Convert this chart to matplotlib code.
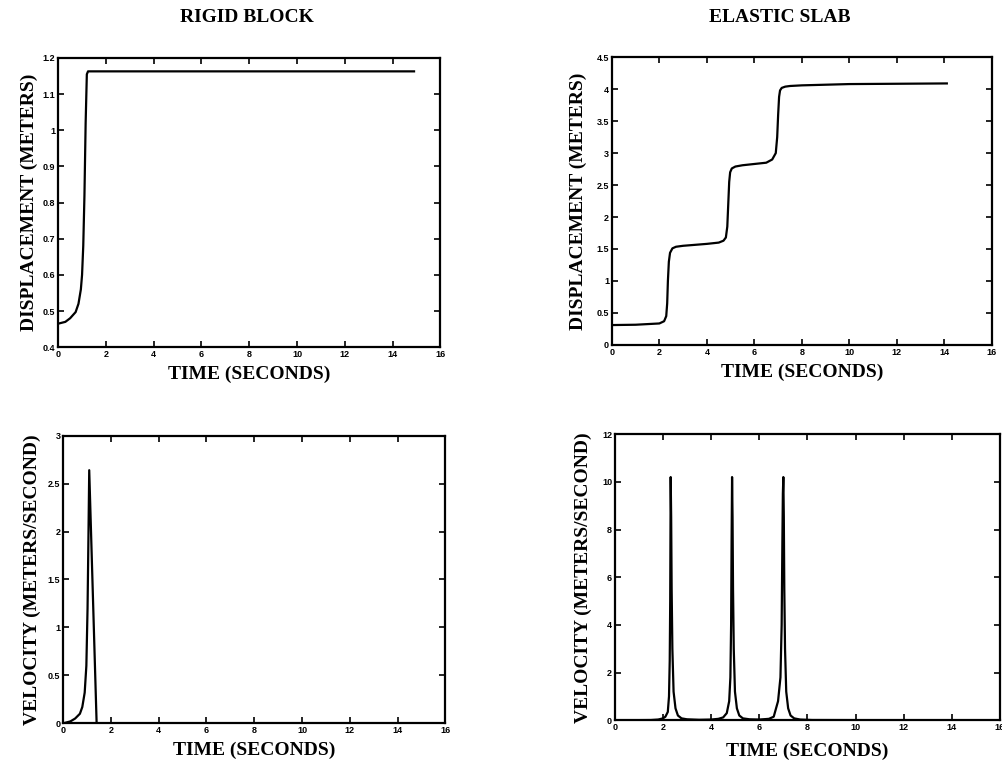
import matplotlib
matplotlib.use('Agg')
import matplotlib.pyplot as plt

# rigid block displacement (m) vs time (s)
t_rigid_disp = [0, 0.3, 0.5, 0.73, 0.85, 0.95, 1.0, 1.05, 1.1, 1.15, 1.2, 1.25, 14.9]
rigid_disp = [0.465, 0.47, 0.48, 0.497, 0.52, 0.56, 0.60, 0.68, 0.82, 1.02, 1.155, 1.163, 1.163]

# rigid block velocity (m/s)
t_rigid_vel = [0, 0.3, 0.5, 0.7, 0.8, 0.9, 0.97, 1.02, 1.06, 1.09, 1.40]
rigid_vel = [0, 0.02, 0.05, 0.10, 0.17, 0.32, 0.6, 1.2, 2.0, 2.64, 0]

# elastic slab displacement (m)
t_slab_disp = [0, 1.0, 2.0, 2.2, 2.29, 2.33, 2.36, 2.40, 2.45, 2.55, 2.7, 3.0, 4.0, 4.5, 4.7,
               4.8, 4.86, 4.90, 4.94, 4.98, 5.05, 5.2, 5.5, 6.0, 6.5, 6.75, 6.9, 6.96,
               7.0, 7.04, 7.08, 7.15, 7.3, 7.5, 8.0, 9.0, 10.0, 14.1]
slab_disp = [0.31, 0.315, 0.335, 0.37, 0.45, 0.65, 1.0, 1.3, 1.44, 1.51, 1.535, 1.55, 1.58, 1.60, 1.63,
             1.68, 1.85, 2.2, 2.55, 2.7, 2.76, 2.79, 2.81, 2.83, 2.85, 2.90, 3.0, 3.25,
             3.6, 3.88, 3.98, 4.02, 4.04, 4.05, 4.06, 4.07, 4.08, 4.09]

# elastic slab velocity (m/s)
t_slab_vel = [0, 1.5, 1.8, 2.0, 2.1, 2.2, 2.25, 2.28, 2.30, 2.32, 2.34, 2.36, 2.39, 2.44, 2.52,
              2.62, 2.77, 3.0, 3.5, 4.0, 4.3, 4.5, 4.65, 4.75, 4.8, 4.83, 4.85, 4.87, 4.89,
              4.91, 4.94, 4.99, 5.07, 5.17, 5.32, 5.6, 6.0, 6.4, 6.6, 6.78, 6.88, 6.93, 6.96,
              6.98, 7.0, 7.02, 7.04, 7.07, 7.12, 7.2, 7.3, 7.45, 7.7, 8.2, 14.1]
slab_vel = [0, 0.01, 0.03, 0.08, 0.15, 0.35, 1.0, 2.5, 5.0, 10.2, 8.5, 5.5, 3.0, 1.2, 0.5,
            0.2, 0.08, 0.04, 0.02, 0.03, 0.06, 0.12, 0.3, 0.8, 1.8, 4.0, 7.5, 10.2, 8.5,
            5.5, 3.0, 1.2, 0.5, 0.2, 0.08, 0.04, 0.03, 0.06, 0.15, 0.8, 1.8, 4.0, 7.5,
            9.5, 10.2, 8.5, 5.5, 3.0, 1.2, 0.5, 0.2, 0.08, 0.03, 0.01, 0]

titles = ['RIGID BLOCK', 'ELASTIC SLAB']
x_label = 'TIME (SECONDS)'
disp_label = 'DISPLACEMENT (METERS)'
vel_label = 'VELOCITY (METERS/SECOND)'

serif = ['Liberation Serif', 'DejaVu Serif']
sans = ['Liberation Sans', 'DejaVu Sans']

fig = plt.figure(figsize=(10.03, 7.63), dpi=100)

def make_axes(rect, t, v, ylim, yticks, ylabel, xpad, ypad):
    ax = fig.add_axes(rect)
    ax.plot(t, v, color='black', lw=1.6)
    ax.set_xlim(0, 16)
    ax.set_ylim(*ylim)
    ax.set_xticks(range(0, 17, 2))
    ax.set_yticks(yticks)
    ax.set_yticklabels(['{:g}'.format(v) for v in yticks])
    ax.tick_params(direction='in', length=4, width=1.2, top=True, right=True, pad=2,
                   labelsize=6.5)
    for lab in ax.get_xticklabels() + ax.get_yticklabels():
        lab.set_family(sans)
        lab.set_fontweight('bold')
    for s in ax.spines.values():
        s.set_linewidth(1.6)
    ax.set_xlabel(x_label, family=serif, fontweight='bold', fontsize=14, labelpad=xpad)
    ax.set_ylabel(ylabel, family=serif, fontweight='bold', fontsize=14, labelpad=ypad)
    return ax

make_axes([0.058, 0.545, 0.381, 0.379], t_rigid_disp, rigid_disp, (0.4, 1.2),
          [0.4, 0.5, 0.6, 0.7, 0.8, 0.9, 1, 1.1, 1.2], disp_label, 5, 3)
make_axes([0.610, 0.548, 0.379, 0.377], t_slab_disp, slab_disp, (0, 4.5),
          [0, 0.5, 1, 1.5, 2, 2.5, 3, 3.5, 4, 4.5], disp_label, 5, 7)
make_axes([0.063, 0.052, 0.381, 0.377], t_rigid_vel, rigid_vel, (0, 3),
          [0, 0.5, 1, 1.5, 2, 2.5, 3], vel_label, 5, 5)
make_axes([0.613, 0.056, 0.384, 0.375], t_slab_vel, slab_vel, (0, 12),
          [0, 2, 4, 6, 8, 10, 12], vel_label, 8, 7)

fig.text(247 / 1003, 1 - 17 / 763, titles[0], family=serif, fontweight='bold',
         fontsize=14, ha='center', va='center')
fig.text(780 / 1003, 1 - 17 / 763, titles[1], family=serif, fontweight='bold',
         fontsize=14, ha='center', va='center')

fig.savefig('out.png', dpi=100)
